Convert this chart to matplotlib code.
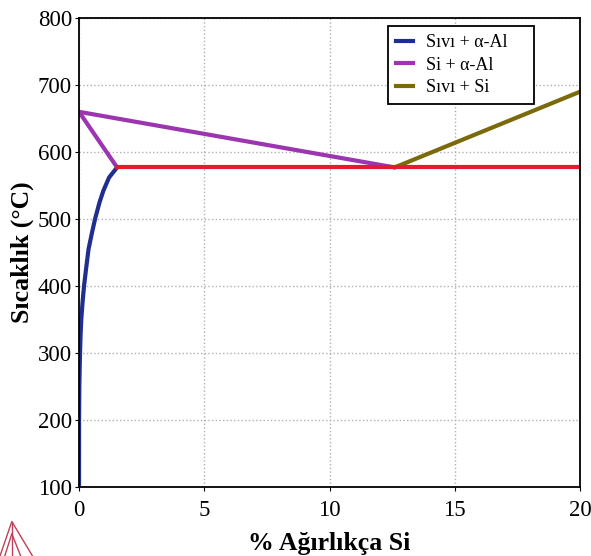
import numpy as np
import matplotlib.pyplot as plt
from matplotlib.lines import Line2D

# Al-Si diagram data
solvus_x = [0.0, 0.002, 0.012, 0.025, 0.04, 0.06, 0.09, 0.14, 0.2, 0.28, 0.38, 0.52, 0.64, 0.82, 0.97, 1.2, 1.52]
solvus_t = [100, 200, 250, 275, 300, 325, 350, 375, 400, 425, 455, 480, 500, 525, 542, 562, 577]
liq_al_x = [0.0, 12.6]
liq_al_t = [660, 577]
sol_al_x = [0.0, 1.52]
sol_al_t = [660, 577]
liq_si_x = [12.6, 20.0]
liq_si_t = [577, 690]
eut_x = [1.52, 20.0]
eut_t = [577, 577]

labels = ['Sıvı + α-Al', 'Si + α-Al', 'Sıvı + Si']
colors = ['#1f2e8f', '#9b35b0', '#7a6a0a']

plt.rcParams['font.family'] = ['Liberation Serif', 'DejaVu Serif']

fig = plt.figure(figsize=(5.91, 5.56), dpi=100)
ax = fig.add_axes([0.1337, 0.1241, 0.8477, 0.8435])

ax.plot(solvus_x, solvus_t, color=colors[0], lw=3, solid_capstyle='round')
ax.plot(liq_al_x, liq_al_t, color=colors[1], lw=3, solid_capstyle='round')
ax.plot(sol_al_x, sol_al_t, color=colors[1], lw=3, solid_capstyle='round')
ax.plot(liq_si_x, liq_si_t, color=colors[2], lw=3, solid_capstyle='round')
ax.plot(eut_x, eut_t, color='#e8192c', lw=3)

ax.set_xlim(0, 20)
ax.set_ylim(100, 800)
ax.set_xticks([0, 5, 10, 15, 20])
ax.set_yticks(range(100, 801, 100))
ax.tick_params(labelsize=16.5, length=3, direction='out')
ax.tick_params(axis='y', pad=2)
ax.tick_params(axis='x', pad=6)
ax.grid(True, linestyle=':', color='#b0b0b0', lw=1)
for s in ax.spines.values():
    s.set_linewidth(1.3)

ax.set_xlabel('% Ağırlıkça Si', fontsize=18.5, fontweight='bold', labelpad=8)
ax.set_ylabel('Sıcaklık (°C)', fontsize=18.5, fontweight='bold', labelpad=3)

handles = [Line2D([], [], color=c, lw=3) for c in colors]
leg = ax.legend(handles, [l + '    ' for l in labels], loc='upper right',
                bbox_to_anchor=(0.908, 0.983), borderaxespad=0,
                fontsize=13, fancybox=False, framealpha=1, edgecolor='black',
                handlelength=0.9, handletextpad=0.75, borderpad=0.45,
                labelspacing=0.3, handleheight=0.7)
leg.get_frame().set_linewidth(1.3)
leg._legend_box.align = 'left'

# small logo at bottom left
lc = '#c0405a'
fig.add_artist(Line2D([0.0, 0.02, 0.055], [0.0, 0.062, 0.0], color=lc, lw=1,
                      transform=fig.transFigure))
fig.add_artist(Line2D([0.02, 0.02], [0.0, 0.062], color=lc, lw=1, transform=fig.transFigure))
fig.add_artist(Line2D([0.008, 0.02, 0.035], [0.0, 0.04, 0.0], color=lc, lw=1,
                      transform=fig.transFigure))

fig.savefig('out.png', dpi=100)
